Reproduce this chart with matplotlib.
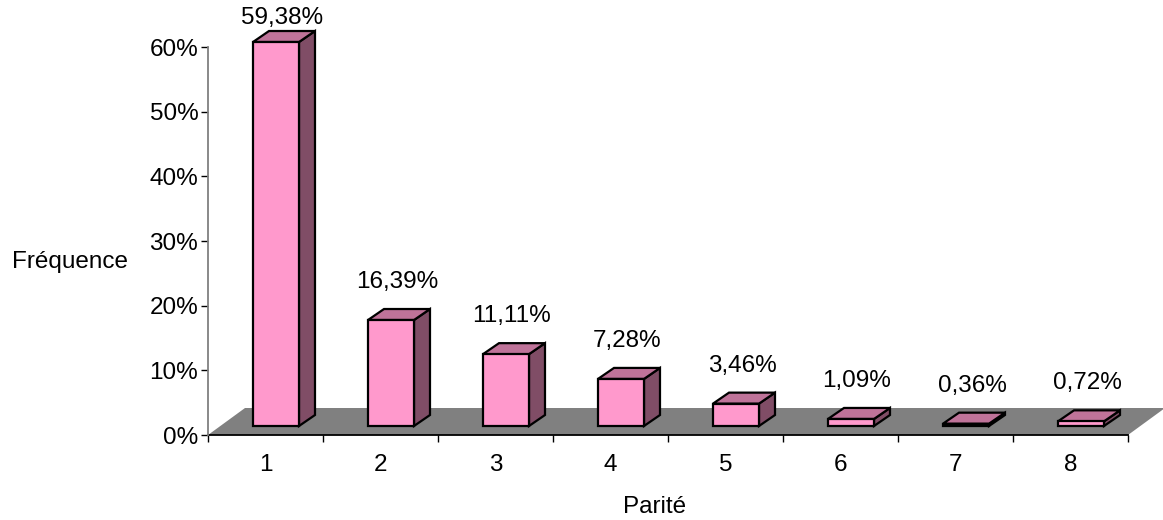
import matplotlib
matplotlib.use("Agg")
import matplotlib.pyplot as plt
from matplotlib.patches import Polygon

plt.rcParams['font.family'] = ['Liberation Sans', 'DejaVu Sans']

categories = ["1", "2", "3", "4", "5", "6", "7", "8"]
values = [59.38, 16.39, 11.11, 7.28, 3.46, 1.09, 0.36, 0.72]
yticks = [0, 10, 20, 30, 40, 50, 60]
ytick_labels = ["0%", "10%", "20%", "30%", "40%", "50%", "60%"]
xlabel = "Parité"
ylabel = "Fréquence"

W, H = 1163, 520
fig = plt.figure(figsize=(W / 100, H / 100), dpi=100)

# axes in pixel layout
x0, x1 = 208, 1128
y0, y1 = 435, 47
ax = fig.add_axes([x0 / W, (H - y0) / H, (x1 - x0) / W, (y0 - y1) / H])
ax.set_xlim(0.5, 8.5)
ax.set_ylim(0, 60)

pxx = (x1 - x0) / 8.0      # px per category
pxy = (y0 - y1) / 60.0     # px per percent

def dx(p):
    return p / pxx

def dy(p):
    return p / pxy

front = "#FF99CC"
top = "#BF7399"
side = "#804D66"
floor = "#808080"
fs = 17.5

# floor
fdx, fdy = dx(37), dy(27)
floor_poly = Polygon([(0.5, 0), (8.5, 0), (8.5 + fdx, fdy), (0.5 + fdx, fdy)],
                     closed=True, facecolor=floor, edgecolor="none",
                     clip_on=False, zorder=1)
ax.add_patch(floor_poly)

# bars
bw = dx(46)
shift_x = dx(10.5)
base = dy(9)
ddx, ddy = dx(16), dy(11)
lw = 1.6
for i, v in enumerate(values):
    c = i + 1 + shift_x
    xl, xr = c - bw / 2, c + bw / 2
    yb, yt = base, base + v
    # side face
    ax.add_patch(Polygon([(xr, yb), (xr + ddx, yb + ddy), (xr + ddx, yt + ddy), (xr, yt)],
                         closed=True, facecolor=side, edgecolor="black", lw=lw,
                         joinstyle="miter", clip_on=False, zorder=3))
    # top face
    ax.add_patch(Polygon([(xl, yt), (xr, yt), (xr + ddx, yt + ddy), (xl + ddx, yt + ddy)],
                         closed=True, facecolor=top, edgecolor="black", lw=lw,
                         joinstyle="miter", clip_on=False, zorder=3))
    # front face
    ax.add_patch(Polygon([(xl, yb), (xr, yb), (xr, yt), (xl, yt)],
                         closed=True, facecolor=front, edgecolor="black", lw=lw,
                         joinstyle="miter", clip_on=False, zorder=4))
    label = f"{v:.2f}".replace(".", ",") + "%"
    ly = min(yt + ddy + dy(27), dy(435 - 18))
    ax.text(c + dx(6), ly, label, ha="center", va="center", fontsize=fs,
            color="black", clip_on=False, zorder=5)

# axes styling
for s in ["top", "right"]:
    ax.spines[s].set_visible(False)
ax.spines["left"].set_color("#808080")
ax.spines["left"].set_linewidth(1.3)
ax.spines["bottom"].set_color("black")
ax.spines["bottom"].set_linewidth(1.3)
ax.spines["bottom"].set_zorder(2)

ax.set_yticks(yticks)
ax.set_yticklabels(ytick_labels, fontsize=fs)
ax.tick_params(axis="y", direction="out", length=5, width=1, color="black", pad=2)

ax.set_xticks(range(1, 9))
ax.set_xticklabels(categories, fontsize=fs)
ax.tick_params(axis="x", which="major", length=0, pad=14)
ax.set_xticks([i + 0.5 for i in range(0, 9)], minor=True)
ax.tick_params(axis="x", which="minor", direction="out", length=5, width=1, color="black")

fig.text(70 / W, 1 - 262 / H, ylabel, ha="center", va="center", fontsize=fs)
fig.text(655 / W, 1 - 507 / H, xlabel, ha="center", va="center", fontsize=fs)

fig.savefig("out.png", dpi=100)
